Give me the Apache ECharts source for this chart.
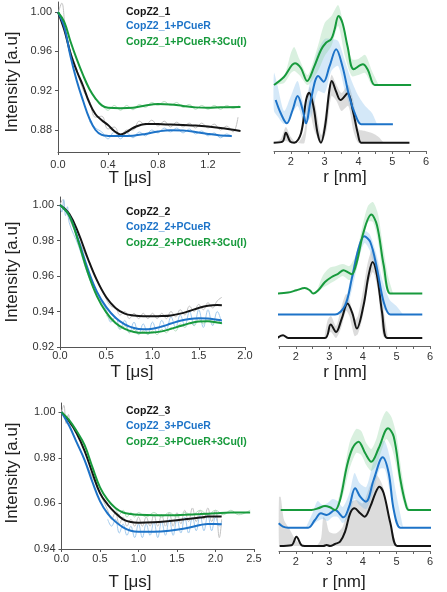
<!DOCTYPE html>
<html>
<head>
<meta charset="utf-8">
<script src="https://cdn.jsdelivr.net/npm/echarts@6/dist/echarts.min.js"></script>
<style>
html,body{margin:0;padding:0;background:#fff;}
#main{width:447px;height:592px;}
</style>
</head>
<body>
<div id="main"></div>
<script>
// 颜色
var cBlack = '#151515', cBlue = '#1d73c8', cGreen = '#179a3c';
var cBlackRaw = '#c2c2c2', cBlueRaw = '#a3cbee', cGreenRaw = '#b6dfbf';
var cGrayBand = 'rgba(150,150,150,0.33)', cBlueBand = 'rgba(125,185,235,0.33)', cGreenBand = 'rgba(130,205,150,0.30)';
var FONT = '"Liberation Sans", Arial, sans-serif';

// 图例文字
var labels1 = ['CopZ2_1', 'CopZ2_1+PCueR', 'CopZ2_1+PCueR+3Cu(I)'];
var labels2 = ['CopZ2_2', 'CopZ2_2+PCueR', 'CopZ2_2+PCueR+3Cu(I)'];
var labels3 = ['CopZ2_3', 'CopZ2_3+PCueR', 'CopZ2_3+PCueR+3Cu(I)'];

// 刻度
var yTicks1 = [0.88, 0.92, 0.96, 1.00], xTicks1 = [0, 0.4, 0.8, 1.2];
var yTicks2 = [0.92, 0.94, 0.96, 0.98, 1.00], xTicks2 = [0, 0.5, 1.0, 1.5, 2.0];
var yTicks3 = [0.94, 0.96, 0.98, 1.00], xTicks3 = [0, 0.5, 1.0, 1.5, 2.0, 2.5];

// ---- panel 1 : time traces ----
var t1Black = [[0,1.0],[0.05,0.982],[0.1,0.958],[0.15,0.94],[0.2,0.925],[0.25,0.908],[0.3,0.896],[0.35,0.89],[0.4,0.885],[0.45,0.879],[0.5,0.8755],[0.55,0.878],[0.6,0.882],[0.7,0.8862],[0.8,0.886],[0.9,0.8855],[1.0,0.885],[1.1,0.8845],[1.2,0.8835],[1.3,0.882],[1.46,0.879]];
var t1Blue = [[0,1.0],[0.05,0.985],[0.1,0.955],[0.15,0.93],[0.2,0.91],[0.25,0.892],[0.3,0.88],[0.35,0.875],[0.4,0.874],[0.5,0.8738],[0.6,0.8742],[0.7,0.876],[0.8,0.8785],[0.9,0.8798],[1.0,0.8795],[1.1,0.878],[1.2,0.876],[1.3,0.8745],[1.39,0.874]];
var t1Green = [[0,1.0],[0.05,0.99],[0.1,0.97],[0.15,0.952],[0.2,0.936],[0.25,0.922],[0.3,0.912],[0.35,0.905],[0.4,0.9025],[0.5,0.902],[0.6,0.9025],[0.7,0.905],[0.8,0.9065],[0.9,0.906],[1.0,0.9045],[1.1,0.903],[1.2,0.9025],[1.3,0.903],[1.46,0.9035]];
var t1BlackRaw = [[0,0.998],[0.03,1.009],[0.06,0.982],[0.1,0.96],[0.15,0.942],[0.2,0.921],[0.25,0.91],[0.3,0.893],[0.35,0.894],[0.4,0.881],[0.45,0.883],[0.5,0.874],[0.55,0.88],[0.6,0.88],[0.65,0.889],[0.7,0.885],[0.75,0.89],[0.8,0.884],[0.85,0.889],[0.9,0.883],[0.95,0.888],[1.0,0.883],[1.05,0.887],[1.1,0.882],[1.15,0.887],[1.2,0.882],[1.25,0.886],[1.3,0.88],[1.35,0.884],[1.4,0.878],[1.44,0.893]];
var t1BlueRaw = [[0.25,0.889],[0.3,0.882],[0.35,0.878],[0.4,0.871],[0.45,0.878],[0.5,0.871],[0.55,0.877],[0.6,0.872],[0.65,0.878],[0.7,0.874],[0.75,0.88],[0.8,0.877],[0.85,0.882],[0.9,0.878],[0.95,0.882],[1.0,0.877],[1.05,0.881],[1.1,0.876],[1.15,0.879],[1.2,0.874],[1.25,0.877],[1.3,0.872],[1.35,0.876],[1.39,0.873]];
var t1GreenRaw = [[0.3,0.913],[0.35,0.906],[0.4,0.9],[0.45,0.905],[0.5,0.9],[0.55,0.905],[0.6,0.9005],[0.65,0.906],[0.7,0.903],[0.75,0.908],[0.8,0.905],[0.85,0.909],[0.9,0.905],[0.95,0.908],[1.0,0.903],[1.05,0.906],[1.1,0.901],[1.15,0.905],[1.2,0.901],[1.25,0.905],[1.3,0.901],[1.35,0.905],[1.4,0.902],[1.45,0.905]];

// ---- panel 2 : time traces ----
var t2Black = [[0,1.0],[0.1,0.995],[0.2,0.984],[0.3,0.97],[0.4,0.9575],[0.5,0.948],[0.6,0.942],[0.7,0.9388],[0.8,0.9377],[0.9,0.9373],[1.0,0.9373],[1.1,0.9374],[1.2,0.9378],[1.3,0.9388],[1.4,0.9403],[1.5,0.942],[1.6,0.9432],[1.7,0.9436],[1.75,0.9435]];
var t2Blue = [[0,1.0],[0.1,0.994],[0.2,0.98],[0.3,0.964],[0.4,0.951],[0.5,0.9425],[0.6,0.9365],[0.7,0.9328],[0.8,0.9307],[0.9,0.93],[1.0,0.9303],[1.1,0.9315],[1.2,0.9332],[1.3,0.9348],[1.4,0.9358],[1.5,0.9362],[1.6,0.936],[1.7,0.9353],[1.75,0.935]];
var t2Green = [[0,1.0],[0.1,0.994],[0.2,0.979],[0.3,0.962],[0.4,0.9485],[0.5,0.9395],[0.6,0.9335],[0.7,0.9302],[0.8,0.9285],[0.9,0.928],[1.0,0.9281],[1.1,0.9288],[1.2,0.9302],[1.3,0.9318],[1.4,0.9333],[1.5,0.9343],[1.6,0.9345],[1.7,0.9338],[1.75,0.9334]];
var t2BlackRaw = [[0,1.0],[0.03,1.003],[0.06,0.997],[0.5,0.947],[0.55,0.943],[0.6,0.942],[0.65,0.938],[0.7,0.94],[0.75,0.936],[0.8,0.939],[0.85,0.936],[0.9,0.939],[0.95,0.936],[1.0,0.939],[1.05,0.936],[1.1,0.939],[1.15,0.936],[1.2,0.94],[1.25,0.937],[1.3,0.941],[1.35,0.938],[1.4,0.943],[1.45,0.94],[1.5,0.944],[1.55,0.941],[1.6,0.945],[1.65,0.942],[1.7,0.946],[1.75,0.948]];
var t2BlueRaw = [[0,1.0],[0.02,0.996],[0.04,1.003],[0.06,0.994],[0.08,0.999],[0.1,0.99],[0.2,0.977],[0.3,0.961],[0.4,0.949],[0.5,0.941],[0.55,0.934],[0.6,0.937],[0.65,0.93],[0.7,0.935],[0.75,0.928],[0.8,0.934],[0.85,0.927],[0.9,0.933],[0.95,0.927],[1.0,0.934],[1.05,0.928],[1.1,0.935],[1.15,0.93],[1.2,0.937],[1.25,0.931],[1.3,0.938],[1.35,0.932],[1.4,0.94],[1.45,0.932],[1.5,0.941],[1.55,0.931],[1.6,0.941],[1.65,0.932],[1.7,0.94],[1.75,0.933]];
var t2GreenRaw = [[0.5,0.938],[0.55,0.935],[0.6,0.934],[0.65,0.93],[0.7,0.932],[0.75,0.928],[0.8,0.93],[0.85,0.927],[0.9,0.929],[0.95,0.927],[1.0,0.929],[1.05,0.927],[1.1,0.93],[1.15,0.928],[1.2,0.931],[1.25,0.929],[1.3,0.933],[1.35,0.931],[1.4,0.934],[1.45,0.932],[1.5,0.936],[1.55,0.933],[1.6,0.936],[1.65,0.933],[1.7,0.935],[1.75,0.933]];

// ---- panel 3 : time traces ----
var t3Black = [[0,1.0],[0.1,0.996],[0.2,0.9905],[0.3,0.983],[0.4,0.9735],[0.5,0.9645],[0.6,0.9595],[0.7,0.9558],[0.8,0.953],[0.9,0.9518],[1.0,0.9515],[1.2,0.9517],[1.4,0.9523],[1.6,0.953],[1.8,0.9538],[1.9,0.9542],[2.0,0.9543],[2.08,0.9542]];
var t3Blue = [[0,1.0],[0.1,0.994],[0.2,0.9865],[0.3,0.979],[0.4,0.9695],[0.5,0.961],[0.6,0.9555],[0.7,0.952],[0.8,0.9495],[0.9,0.948],[1.0,0.9476],[1.2,0.9476],[1.4,0.948],[1.6,0.949],[1.8,0.9505],[1.9,0.951],[2.0,0.951],[2.08,0.9509]];
var t3Green = [[0,1.0],[0.1,0.9965],[0.2,0.9915],[0.3,0.9855],[0.4,0.976],[0.5,0.967],[0.6,0.9615],[0.7,0.958],[0.8,0.956],[0.9,0.9553],[1.0,0.955],[1.2,0.9548],[1.4,0.9548],[1.6,0.955],[1.8,0.9553],[2.0,0.9557],[2.2,0.956],[2.45,0.956]];
var t3BlackRaw = [[0,1.0],[0.03,1.003],[0.06,0.995],[0.09,0.999],[0.12,0.993],[0.6,0.957],[0.65,0.953],[0.7,0.956],[0.75,0.951],[0.8,0.954],[0.85,0.95],[0.9,0.953],[0.95,0.95],[1.0,0.954],[1.05,0.95],[1.1,0.954],[1.15,0.95],[1.2,0.955],[1.25,0.95],[1.3,0.955],[1.35,0.95],[1.4,0.956],[1.45,0.95],[1.5,0.956],[1.55,0.951],[1.6,0.957],[1.65,0.952],[1.7,0.958],[1.75,0.952],[1.8,0.957],[1.85,0.953],[1.9,0.958],[1.95,0.952],[2.0,0.957],[2.05,0.945],[2.08,0.953]];
var t3BlueRaw = [[0.6,0.953],[0.65,0.95],[0.7,0.953],[0.75,0.947],[0.8,0.951],[0.85,0.946],[0.9,0.95],[0.95,0.945],[1.0,0.951],[1.05,0.945],[1.1,0.951],[1.15,0.946],[1.2,0.952],[1.25,0.945],[1.3,0.952],[1.35,0.946],[1.4,0.953],[1.45,0.946],[1.5,0.953],[1.55,0.947],[1.6,0.954],[1.65,0.947],[1.7,0.954],[1.75,0.948],[1.8,0.955],[1.85,0.948],[1.9,0.955],[1.95,0.948],[2.0,0.954],[2.05,0.95],[2.08,0.952]];
var t3GreenRaw = [[0.7,0.958],[0.75,0.955],[0.8,0.957],[0.85,0.954],[0.9,0.956],[0.95,0.954],[1.0,0.956],[1.1,0.954],[1.2,0.956],[1.3,0.954],[1.4,0.956],[1.5,0.954],[1.6,0.956],[1.7,0.955],[1.8,0.957],[1.9,0.955],[2.0,0.957],[2.1,0.955],[2.2,0.957],[2.3,0.955],[2.45,0.957]];

// ---- distance distributions (offset stacked, arbitrary units) ----
var r1Black = [[1.49,8.3],[1.75,9.3],[1.85,18.3],[1.98,9.3],[2.1,8.3],[2.3,17.7],[2.45,51],[2.54,58.3],[2.67,44.3],[2.79,17.7],[2.89,8.3],[3.01,24.3],[3.14,61],[3.21,70],[3.34,59.3],[3.47,51],[3.68,57.7],[3.83,41],[3.98,17.7],[4.08,8.3],[4.3,8.3],[5.51,8.3]];
var r1Blue = [[1.55,51],[1.7,37.7],[1.88,27.7],[2.05,41],[2.2,55],[2.35,41],[2.45,27.7],[2.59,51],[2.81,75],[2.97,69.3],[3.14,84.3],[3.34,101.7],[3.53,84.3],[3.73,54.3],[3.93,34.3],[4.08,26.7],[4.3,26.7],[5.02,26.7]];
var r1Green = [[1.5,66],[1.8,74.3],[2.12,87.7],[2.3,82.7],[2.48,70],[2.69,84.3],[2.89,101],[3.04,108.3],[3.19,111.7],[3.29,121],[3.41,135],[3.53,127.7],[3.68,104.3],[3.86,81.7],[4.13,86.7],[4.28,81],[4.48,66],[4.7,66],[5.56,66]];
var r1GrayR = [1.5,1.7,1.85,2.0,2.2,2.4,2.55,2.7,2.9,3.05,3.2,3.35,3.5,3.7,3.85,4.0,4.2,4.4,4.6,4.75];
var r1GrayLo = [8,8,10,8,8,8,40,20,8,20,55,50,40,45,20,8,8,8,8,8];
var r1GrayHi = [8,12,24,14,8,20,64,50,16,45,76,66,58,66,50,22,20,18,14,8];
var r1BlueR = [1.5,1.6,1.8,2.0,2.2,2.4,2.6,2.8,3.0,3.2,3.4,3.6,3.8,4.0,4.2,4.4,4.55];
var r1BlueLo = [40,35,27,35,45,27,35,60,58,80,85,60,40,27,27,27,27];
var r1BlueHi = [78,66,40,55,70,45,75,100,112,112,110,90,70,55,45,38,27];
var r1GreenR = [1.5,1.8,2.0,2.1,2.25,2.5,2.8,3.0,3.2,3.4,3.6,3.8,4.0,4.2,4.4,4.6];
var r1GreenLo = [66,68,78,80,76,66,80,95,105,125,95,75,76,78,66,66];
var r1GreenHi = [66,75,98,104,92,76,105,128,135,146,120,92,92,96,80,66];

var r2Black = [[1.45,8],[1.62,10.7],[1.77,8],[2.87,8],[3.04,21.4],[3.2,14],[3.37,27.4],[3.54,42.4],[3.69,32.4],[3.82,17.4],[4.02,40.7],[4.17,70.7],[4.29,84],[4.42,70.7],[4.57,34],[4.72,8],[5.0,8],[5.77,8]];
var r2Blue = [[1.45,31.4],[3.0,31.4],[3.17,31.4],[3.47,40.7],[3.67,67.4],[3.87,97.4],[4.04,109.7],[4.22,104],[4.42,77.4],[4.62,44],[4.82,31.4],[5.1,31.4],[5.77,31.4]];
var r2Green = [[1.45,52.4],[1.77,53.4],[2.02,55.7],[2.27,58],[2.42,55.7],[2.52,52.4],[2.67,55.7],[2.87,64],[3.07,69],[3.27,72.4],[3.42,75.7],[3.57,73.4],[3.67,71.7],[3.82,84],[4.02,114],[4.25,131.4],[4.42,120.7],[4.62,80.7],[4.82,52.4],[5.1,52.4],[5.77,52.4]];
var r2GrayR = [2.85,2.95,3.05,3.2,3.35,3.5,3.6,3.75,3.85,4.0,4.15,4.3,4.45,4.6,4.75];
var r2GrayLo = [8,12,14,8,18,35,30,10,12,30,60,74,55,10,8];
var r2GrayHi = [8,26,30,20,38,52,46,26,30,55,84,98,80,40,8];
var r2BlueR = [3.3,3.5,3.7,3.9,4.05,4.2,4.4,4.6,4.8,5.0,5.2];
var r2BlueLo = [31.4,36,60,90,103,96,70,38,31.4,31.4,31.4];
var r2BlueHi = [31.4,48,78,104,115,112,92,64,46,40,31.4];
var r2GreenR = [2.6,2.8,3.0,3.2,3.4,3.6,3.8,4.0,4.15,4.3,4.45,4.6,4.75,4.9];
var r2GreenLo = [52.4,58,62,66,70,66,76,105,124,124,105,70,52.4,52.4];
var r2GreenHi = [52.4,70,78,80,82,80,92,122,140,144,132,100,70,52.4];

var r3Black = [[1.52,5],[1.87,5.7],[2.02,14.3],[2.17,5.7],[2.27,5],[2.82,5],[2.92,6],[3.02,5],[3.17,7],[3.32,9.3],[3.47,19.3],[3.62,37.7],[3.75,42.7],[3.92,37.7],[4.05,34.3],[4.22,44.3],[4.37,57.7],[4.49,64.3],[4.62,57.7],[4.82,27.7],[5.02,5],[5.3,5],[6.17,5]];
var r3Blue = [[1.49,27.7],[1.62,24.3],[1.77,23.3],[2.37,23.3],[2.57,31],[2.75,37.7],[2.92,36],[3.17,41],[3.42,33.7],[3.59,44.3],[3.77,62.7],[3.92,54.3],[4.09,49.3],[4.32,71],[4.59,93.7],[4.77,77.7],[4.92,41],[5.12,23.3],[5.4,23.3],[6.22,23.3]];
var r3Green = [[1.55,41],[2.47,41],[2.67,42.7],[2.87,45],[3.02,43.7],[3.17,41],[3.32,51],[3.52,84.3],[3.69,102.7],[3.87,109.3],[4.07,97.7],[4.25,89.3],[4.47,102.7],[4.75,122.7],[4.92,114.3],[5.12,71],[5.27,47.7],[5.37,41],[5.7,41],[6.47,41]];
var r3GrayR = [1.5,1.55,1.65,1.8,2.0,2.2,2.6,2.75,2.82,2.9,3.0,3.2,3.4,3.6,3.8,4.0,4.2,4.4,4.6,4.8,5.0];
var r3GrayLo = [5,5,5,5,5,5,5,5,5,5,5,5,5,5,5,5,5,5,5,5,5];
var r3GrayHi = [54,54,31,22.7,11,6,5,12,34,31,19,17.7,24.3,47.7,51,47.7,64.3,76,64.3,31,5];
var r3BlueR = [2.3,2.5,2.65,2.8,2.95,3.1,3.25,3.4,3.6,3.75,3.9,4.1,4.3,4.5,4.65,4.8,5.0,5.2];
var r3BlueLo = [23.3,26,30,32,30,34,34,28,36,52,46,42,58,82,82,60,30,23.3];
var r3BlueHi = [23.3,38,50,46,48,52,50,44,58,78,68,64,88,108,110,94,56,23.3];
var r3GreenR = [3.2,3.4,3.6,3.8,3.95,4.1,4.25,4.4,4.55,4.7,4.85,5.0,5.15,5.3,5.4];
var r3GreenLo = [41,55,82,98,96,86,80,86,100,112,104,84,56,41,41];
var r3GreenHi = [41,72,108,122,120,108,102,112,130,140,134,116,80,50,41];

var grids = [], xAxes = [], yAxes = [], series = [], graphics = [];

function lineSeries(idx, data, color, width, z, smooth, clip){
	series.push({
		type: 'line', xAxisIndex: idx, yAxisIndex: idx, data: data,
		smooth: smooth, symbol: 'none', silent: true, z: z,
		clip: clip !== false,
		lineStyle: {color: color, width: width}
	});
}

// 误差带：用 custom 多边形画（上沿 + 反向下沿）
function bandSeries(idx, rs, lo, hi, color){
	series.push({
		type: 'custom', xAxisIndex: idx, yAxisIndex: idx, silent: true, z: 1,
		data: [[rs[0], lo[0]]],
		renderItem: function(params, api){
			var pts = [], i;
			for (i = 0; i < rs.length; i++) pts.push(api.coord([rs[i], hi[i]]));
			for (i = rs.length - 1; i >= 0; i--) pts.push(api.coord([rs[i], lo[i]]));
			return {type: 'polygon', shape: {points: pts, smooth: 0.25}, style: {fill: color}};
		}
	});
}

// 左侧：时间域曲线
function addLeft(g, xMin, xMax, yMin, yMax, xt, yt, labMargin){
	var idx = grids.length;
	grids.push({left: g[0], top: g[1], width: g[2], height: g[3], containLabel: false});
	xAxes.push({
		type: 'value', gridIndex: idx, min: xMin, max: xMax,
		axisLine: {show: true, onZero: false, lineStyle: {color: '#555', width: 1}},
		axisTick: {show: true, length: 3, customValues: xt, lineStyle: {color: '#555'}},
		axisLabel: {customValues: xt, margin: labMargin, color: '#333', fontSize: 11, fontFamily: FONT,
			formatter: function(v){ return v.toFixed(1); }},
		splitLine: {show: false}
	});
	yAxes.push({
		type: 'value', gridIndex: idx, min: yMin, max: yMax,
		axisLine: {show: true, onZero: false, lineStyle: {color: '#555', width: 1}},
		axisTick: {show: true, length: 3, customValues: yt, lineStyle: {color: '#555'}},
		axisLabel: {customValues: yt, margin: 6, color: '#333', fontSize: 11, fontFamily: FONT,
			formatter: function(v){ return v.toFixed(2); }},
		splitLine: {show: false}
	});
	return idx;
}

// 右侧：距离分布
function addRight(g){
	var idx = grids.length;
	grids.push({left: g[0], top: g[1], width: g[2], height: g[3], containLabel: false});
	xAxes.push({
		type: 'value', gridIndex: idx, min: 1.5, max: 6, interval: 0.5,
		axisLine: {show: true, onZero: false, lineStyle: {color: '#666', width: 1}},
		axisTick: {show: true, length: 3, lineStyle: {color: '#666'}},
		axisLabel: {margin: 5, color: '#333', fontSize: 11, fontFamily: FONT,
			formatter: function(v){ return (Math.abs(v - Math.round(v)) < 1e-6) ? String(Math.round(v)) : ''; }},
		splitLine: {show: false}
	});
	yAxes.push({type: 'value', gridIndex: idx, min: 0, max: 151, show: false});
	return idx;
}

function legendText(x, ys, texts){
	var cols = [cBlack, cBlue, cGreen];
	for (var i = 0; i < 3; i++) {
		graphics.push({type: 'text', x: x, y: ys[i], silent: true,
			style: {text: texts[i], fill: cols[i], font: 'bold 10.5px ' + FONT, align: 'left', verticalAlign: 'middle'}});
	}
}

function axisTitle(x, y, text, rotate){
	graphics.push({type: 'text', x: x, y: y, rotation: rotate ? Math.PI / 2 : 0, silent: true,
		style: {text: text, fill: '#222', font: '17px ' + FONT, align: 'center', verticalAlign: 'middle'}});
}

// panel 1
var a = addLeft([58, 2, 182, 150], 0, 1.456, 0.8576, 1.0102, xTicks1, yTicks1, 7);
lineSeries(a, t1BlackRaw, cBlackRaw, 1, 2, 0.4);
lineSeries(a, t1BlueRaw, cBlueRaw, 1, 2, 0.4);
lineSeries(a, t1GreenRaw, cGreenRaw, 1, 2, 0.4);
lineSeries(a, t1Black, cBlack, 2, 3, 0.4);
lineSeries(a, t1Blue, cBlue, 2, 3, 0.4);
lineSeries(a, t1Green, cGreen, 2, 3, 0.4);

var b = addRight([274, 0, 152, 151]);
bandSeries(b, r1GrayR, r1GrayLo, r1GrayHi, cGrayBand);
bandSeries(b, r1BlueR, r1BlueLo, r1BlueHi, cBlueBand);
bandSeries(b, r1GreenR, r1GreenLo, r1GreenHi, cGreenBand);
lineSeries(b, r1Black, cBlack, 2, 3, 0.35, false);
lineSeries(b, r1Blue, cBlue, 2, 3, 0.35, false);
lineSeries(b, r1Green, cGreen, 2, 3, 0.35, false);

// panel 2
a = addLeft([60, 197, 185, 150], 0, 2.0, 0.92, 1.0045, xTicks2, yTicks2, 3);
lineSeries(a, t2BlackRaw, cBlackRaw, 1, 2, 0.4);
lineSeries(a, t2BlueRaw, cBlueRaw, 1, 2, 0.4);
lineSeries(a, t2GreenRaw, cGreenRaw, 1, 2, 0.4);
lineSeries(a, t2Black, cBlack, 2, 3, 0.4);
lineSeries(a, t2Blue, cBlue, 2, 3, 0.4);
lineSeries(a, t2Green, cGreen, 2, 3, 0.4);

b = addRight([279, 195, 151, 151]);
bandSeries(b, r2GrayR, r2GrayLo, r2GrayHi, cGrayBand);
bandSeries(b, r2BlueR, r2BlueLo, r2BlueHi, cBlueBand);
bandSeries(b, r2GreenR, r2GreenLo, r2GreenHi, cGreenBand);
lineSeries(b, r2Black, cBlack, 2, 3, 0.35, false);
lineSeries(b, r2Blue, cBlue, 2, 3, 0.35, false);
lineSeries(b, r2Green, cGreen, 2, 3, 0.35, false);

// panel 3
a = addLeft([61.5, 403, 192.5, 146], 0, 2.5, 0.94, 1.004, xTicks3, yTicks3, 4);
lineSeries(a, t3BlackRaw, cBlackRaw, 1, 2, 0.4);
lineSeries(a, t3BlueRaw, cBlueRaw, 1, 2, 0.4);
lineSeries(a, t3GreenRaw, cGreenRaw, 1, 2, 0.4);
lineSeries(a, t3Black, cBlack, 2, 3, 0.4);
lineSeries(a, t3Blue, cBlue, 2, 3, 0.4);
lineSeries(a, t3Green, cGreen, 2, 3, 0.4);

b = addRight([279, 400, 151, 151]);
bandSeries(b, r3GrayR, r3GrayLo, r3GrayHi, cGrayBand);
bandSeries(b, r3BlueR, r3BlueLo, r3BlueHi, cBlueBand);
bandSeries(b, r3GreenR, r3GreenLo, r3GreenHi, cGreenBand);
lineSeries(b, r3Black, cBlack, 2, 3, 0.35, false);
lineSeries(b, r3Blue, cBlue, 2, 3, 0.35, false);
lineSeries(b, r3Green, cGreen, 2, 3, 0.35, false);

// 图例 & 坐标轴标题
legendText(126, [11.7, 26, 42.3], labels1);
legendText(126, [212, 227.3, 242.7], labels2);
legendText(126, [411, 426, 441.7], labels3);

axisTitle(12, 82, 'Intensity [a.u]', true);
axisTitle(12, 272, 'Intensity [a.u]', true);
axisTitle(12, 473, 'Intensity [a.u]', true);
axisTitle(130, 178, 'T [μs]');
axisTitle(132, 372, 'T [μs]');
axisTitle(130, 582, 'T [μs]');
axisTitle(345, 177, 'r [nm]');
axisTitle(345, 372, 'r [nm]');
axisTitle(344, 582, 'r [nm]');

var chart = echarts.init(document.getElementById('main'));
chart.setOption({
	animation: false,
	backgroundColor: '#fff',
	grid: grids,
	xAxis: xAxes,
	yAxis: yAxes,
	series: series,
	graphic: graphics
});
</script>
</body>
</html>
